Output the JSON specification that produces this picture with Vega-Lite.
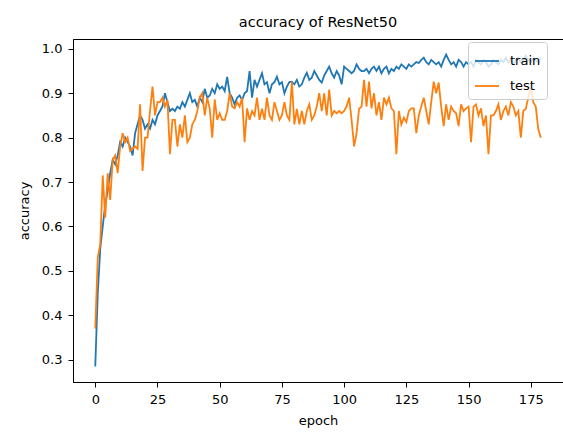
{
"$schema": "https://vega.github.io/schema/vega-lite/v6.json",
"width": 490, "height": 343,
"autosize": {"type": "none"},
"padding": {"left": 73, "top": 39, "right": 0, "bottom": 59},
"background": "white",
"config": {"font": "DejaVu Sans", "view": {"stroke": "black", "strokeWidth": 1}},
"title": {"text": "accuracy of ResNet50", "fontSize": 14.5, "fontWeight": "normal", "color": "black", "offset": 9, "font": "DejaVu Sans"},
"data": {"values": [
{"epoch":0,"train":0.285,"test":0.37},{"epoch":1,"train":0.45,"test":0.53},{"epoch":2,"train":0.55,"test":0.56},{"epoch":3,"train":0.6,"test":0.715},{"epoch":4,"train":0.65,"test":0.62},
{"epoch":5,"train":0.68,"test":0.72},{"epoch":6,"train":0.72,"test":0.66},{"epoch":7,"train":0.75,"test":0.75},{"epoch":8,"train":0.74,"test":0.76},{"epoch":9,"train":0.76,"test":0.72},
{"epoch":10,"train":0.79,"test":0.78},{"epoch":11,"train":0.78,"test":0.81},{"epoch":12,"train":0.8,"test":0.79},{"epoch":13,"train":0.79,"test":0.8},{"epoch":14,"train":0.78,"test":0.77},
{"epoch":15,"train":0.76,"test":0.775},{"epoch":16,"train":0.81,"test":0.78},{"epoch":17,"train":0.83,"test":0.775},{"epoch":18,"train":0.85,"test":0.875},{"epoch":19,"train":0.84,"test":0.725},
{"epoch":20,"train":0.82,"test":0.8},{"epoch":21,"train":0.83,"test":0.8},{"epoch":22,"train":0.82,"test":0.86},{"epoch":23,"train":0.84,"test":0.915},{"epoch":24,"train":0.83,"test":0.85},
{"epoch":25,"train":0.85,"test":0.88},{"epoch":26,"train":0.86,"test":0.88},{"epoch":27,"train":0.87,"test":0.89},{"epoch":28,"train":0.9,"test":0.87},{"epoch":29,"train":0.88,"test":0.885},
{"epoch":30,"train":0.86,"test":0.763},{"epoch":31,"train":0.865,"test":0.84},{"epoch":32,"train":0.86,"test":0.84},{"epoch":33,"train":0.87,"test":0.78},{"epoch":34,"train":0.865,"test":0.83},
{"epoch":35,"train":0.88,"test":0.8},{"epoch":36,"train":0.87,"test":0.85},{"epoch":37,"train":0.885,"test":0.79},{"epoch":38,"train":0.9,"test":0.8},{"epoch":39,"train":0.88,"test":0.83},
{"epoch":40,"train":0.885,"test":0.84},{"epoch":41,"train":0.87,"test":0.86},{"epoch":42,"train":0.89,"test":0.89},{"epoch":43,"train":0.88,"test":0.9},{"epoch":44,"train":0.91,"test":0.85},
{"epoch":45,"train":0.89,"test":0.89},{"epoch":46,"train":0.895,"test":0.865},{"epoch":47,"train":0.91,"test":0.8},{"epoch":48,"train":0.9,"test":0.886},{"epoch":49,"train":0.92,"test":0.84},
{"epoch":50,"train":0.91,"test":0.855},{"epoch":51,"train":0.915,"test":0.84},{"epoch":52,"train":0.905,"test":0.84},{"epoch":53,"train":0.937,"test":0.86},{"epoch":54,"train":0.9,"test":0.9},
{"epoch":55,"train":0.89,"test":0.87},{"epoch":56,"train":0.875,"test":0.866},{"epoch":57,"train":0.89,"test":0.88},{"epoch":58,"train":0.895,"test":0.87},{"epoch":59,"train":0.885,"test":0.89},
{"epoch":60,"train":0.9,"test":0.79},{"epoch":61,"train":0.905,"test":0.866},{"epoch":62,"train":0.95,"test":0.84},{"epoch":63,"train":0.89,"test":0.86},{"epoch":64,"train":0.93,"test":0.85},
{"epoch":65,"train":0.915,"test":0.89},{"epoch":66,"train":0.93,"test":0.84},{"epoch":67,"train":0.945,"test":0.865},{"epoch":68,"train":0.92,"test":0.84},{"epoch":69,"train":0.925,"test":0.89},
{"epoch":70,"train":0.9,"test":0.85},{"epoch":71,"train":0.92,"test":0.84},{"epoch":72,"train":0.925,"test":0.88},{"epoch":73,"train":0.937,"test":0.86},{"epoch":74,"train":0.92,"test":0.84},
{"epoch":75,"train":0.925,"test":0.85},{"epoch":76,"train":0.9,"test":0.88},{"epoch":77,"train":0.915,"test":0.85},{"epoch":78,"train":0.925,"test":0.84},{"epoch":79,"train":0.926,"test":0.926},
{"epoch":80,"train":0.92,"test":0.83},{"epoch":81,"train":0.93,"test":0.865},{"epoch":82,"train":0.915,"test":0.83},{"epoch":83,"train":0.92,"test":0.86},{"epoch":84,"train":0.935,"test":0.83},
{"epoch":85,"train":0.946,"test":0.86},{"epoch":86,"train":0.93,"test":0.875},{"epoch":87,"train":0.935,"test":0.84},{"epoch":88,"train":0.95,"test":0.85},{"epoch":89,"train":0.94,"test":0.87},
{"epoch":90,"train":0.93,"test":0.9},{"epoch":91,"train":0.924,"test":0.86},{"epoch":92,"train":0.94,"test":0.9},{"epoch":93,"train":0.95,"test":0.85},{"epoch":94,"train":0.96,"test":0.908},
{"epoch":95,"train":0.945,"test":0.85},{"epoch":96,"train":0.935,"test":0.86},{"epoch":97,"train":0.95,"test":0.855},{"epoch":98,"train":0.94,"test":0.86},{"epoch":99,"train":0.92,"test":0.855},
{"epoch":100,"train":0.96,"test":0.86},{"epoch":101,"train":0.955,"test":0.87},{"epoch":102,"train":0.95,"test":0.89},{"epoch":103,"train":0.945,"test":0.84},{"epoch":104,"train":0.95,"test":0.78},
{"epoch":105,"train":0.965,"test":0.81},{"epoch":106,"train":0.955,"test":0.865},{"epoch":107,"train":0.95,"test":0.87},{"epoch":108,"train":0.95,"test":0.93},{"epoch":109,"train":0.955,"test":0.87},
{"epoch":110,"train":0.945,"test":0.926},{"epoch":111,"train":0.955,"test":0.866},{"epoch":112,"train":0.96,"test":0.9},{"epoch":113,"train":0.95,"test":0.85},{"epoch":114,"train":0.96,"test":0.88},
{"epoch":115,"train":0.945,"test":0.84},{"epoch":116,"train":0.955,"test":0.89},{"epoch":117,"train":0.96,"test":0.875},{"epoch":118,"train":0.945,"test":0.89},{"epoch":119,"train":0.955,"test":0.866},
{"epoch":120,"train":0.95,"test":0.86},{"epoch":121,"train":0.96,"test":0.763},{"epoch":122,"train":0.955,"test":0.86},{"epoch":123,"train":0.965,"test":0.83},{"epoch":124,"train":0.96,"test":0.845},
{"epoch":125,"train":0.955,"test":0.835},{"epoch":126,"train":0.965,"test":0.86},{"epoch":127,"train":0.96,"test":0.866},{"epoch":128,"train":0.965,"test":0.866},{"epoch":129,"train":0.97,"test":0.81},
{"epoch":130,"train":0.968,"test":0.85},{"epoch":131,"train":0.975,"test":0.87},{"epoch":132,"train":0.98,"test":0.89},{"epoch":133,"train":0.97,"test":0.86},{"epoch":134,"train":0.965,"test":0.83},
{"epoch":135,"train":0.975,"test":0.88},{"epoch":136,"train":0.97,"test":0.926},{"epoch":137,"train":0.965,"test":0.9},{"epoch":138,"train":0.97,"test":0.924},{"epoch":139,"train":0.96,"test":0.87},
{"epoch":140,"train":0.975,"test":0.826},{"epoch":141,"train":0.987,"test":0.875},{"epoch":142,"train":0.975,"test":0.84},{"epoch":143,"train":0.965,"test":0.87},{"epoch":144,"train":0.97,"test":0.86},
{"epoch":145,"train":0.96,"test":0.855},{"epoch":146,"train":0.975,"test":0.826},{"epoch":147,"train":0.97,"test":0.875},{"epoch":148,"train":0.96,"test":0.86},{"epoch":149,"train":0.97,"test":0.866},
{"epoch":150,"train":0.965,"test":0.87},{"epoch":151,"train":0.97,"test":0.79},{"epoch":152,"train":0.96,"test":0.87},{"epoch":153,"train":0.975,"test":0.875},{"epoch":154,"train":0.97,"test":0.85},
{"epoch":155,"train":0.965,"test":0.866},{"epoch":156,"train":0.975,"test":0.826},{"epoch":157,"train":0.97,"test":0.85},{"epoch":158,"train":0.96,"test":0.763},{"epoch":159,"train":0.965,"test":0.85},
{"epoch":160,"train":0.975,"test":0.85},{"epoch":161,"train":0.97,"test":0.86},{"epoch":162,"train":0.965,"test":0.875},{"epoch":163,"train":0.975,"test":0.84},{"epoch":164,"train":0.97,"test":0.86},
{"epoch":165,"train":0.98,"test":0.87},{"epoch":166,"train":0.97,"test":0.85},{"epoch":167,"train":0.975,"test":0.88},{"epoch":168,"train":0.965,"test":0.87},{"epoch":169,"train":0.975,"test":0.85},
{"epoch":170,"train":0.98,"test":0.86},{"epoch":171,"train":0.97,"test":0.8},{"epoch":172,"train":0.975,"test":0.86},{"epoch":173,"train":0.985,"test":0.865},{"epoch":174,"train":0.975,"test":0.89},
{"epoch":175,"train":0.97,"test":0.913},{"epoch":176,"train":0.98,"test":0.88},{"epoch":177,"train":0.975,"test":0.87},{"epoch":178,"train":0.97,"test":0.82},{"epoch":179,"train":0.98,"test":0.8}
]},
"transform": [{"fold": ["train", "test"], "as": ["series", "acc"]}],
"mark": {"type": "line", "strokeWidth": 1.8, "clip": true},
"encoding": {
  "x": {"field": "epoch", "type": "quantitative",
        "scale": {"domain": [-8.95, 187.95], "nice": false, "zero": false},
        "axis": {"values": [0,25,50,75,100,125,150,175], "grid": false, "title": "epoch",
                 "titleFontSize": 13, "titleFontWeight": "normal", "titleColor": "black", "titlePadding": 8,
                 "labelFontSize": 13, "labelColor": "black", "labelPadding": 6,
                 "tickSize": 5, "tickColor": "black", "domainColor": "black", "labelFlush": false}},
  "y": {"field": "acc", "type": "quantitative",
        "scale": {"domain": [0.2499, 1.0221], "nice": false, "zero": false},
        "axis": {"values": [0.3,0.4,0.5,0.6,0.7,0.8,0.9,1.0], "format": ".1f", "grid": false, "title": "accuracy",
                 "titleFontSize": 13, "titleFontWeight": "normal", "titleColor": "black", "titlePadding": 10,
                 "labelFontSize": 13, "labelColor": "black", "labelPadding": 6,
                 "tickSize": 5, "tickColor": "black", "domainColor": "black", "labelFlush": false}},
  "color": {"field": "series", "type": "nominal",
            "scale": {"domain": ["train", "test"], "range": ["#1f77b4", "#ff7f0e"]},
            "legend": {"title": null, "orient": "none", "legendX": 395, "legendY": 3,
                       "symbolType": "stroke", "symbolSize": 576, "symbolStrokeWidth": 1.8,
                       "labelFontSize": 13, "labelColor": "black", "labelOffset": 10,
                       "fillColor": "rgba(255,255,255,0.8)", "strokeColor": "#cccccc",
                       "cornerRadius": 3, "padding": 6, "rowPadding": 5}},
  "order": {"field": "series", "sort": "descending"}
}
}
